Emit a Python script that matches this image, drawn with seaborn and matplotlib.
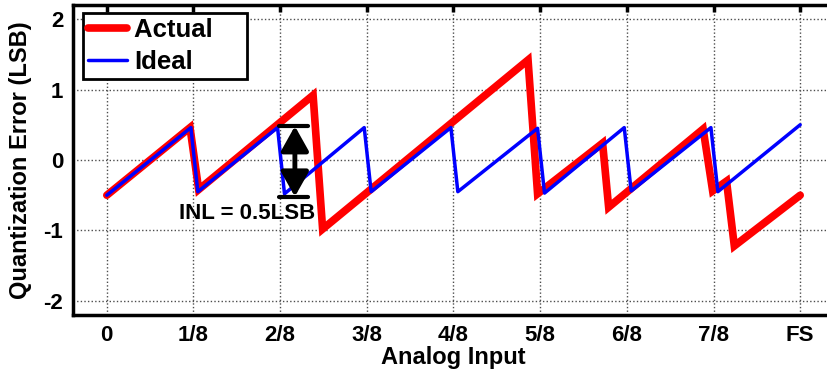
import numpy as np
import pandas as pd
import seaborn as sns
import matplotlib.pyplot as plt

# x in units of FS/8, y in LSB
ideal_x = [0, 0.97, 1.05, 1.97, 2.05, 2.97, 3.05, 3.97, 4.05, 4.97, 5.05, 5.97, 6.05, 6.97, 7.05, 8.0]
ideal_y = [-0.5, 0.46, -0.45, 0.46, -0.48, 0.46, -0.45, 0.46, -0.45, 0.45, -0.47, 0.46, -0.44, 0.46, -0.45, 0.5]

actual_x = [0, 0.96, 1.06, 2.38, 2.49, 4.86, 4.97, 5.72, 5.79, 6.88, 6.99, 7.15, 7.24, 8.0]
actual_y = [-0.5, 0.46, -0.42, 0.92, -0.98, 1.42, -0.48, 0.24, -0.67, 0.44, -0.44, -0.30, -1.22, -0.5]

tick_pos = [0, 1, 2, 3, 4, 5, 6, 7, 8]
tick_labels = ['0', '1/8', '2/8', '3/8', '4/8', '5/8', '6/8', '7/8', 'FS']
y_ticks = [-2, -1, 0, 1, 2]

df = pd.concat([
    pd.DataFrame({'x': actual_x, 'y': actual_y, 'series': 'Actual'}),
    pd.DataFrame({'x': ideal_x, 'y': ideal_y, 'series': 'Ideal'}),
])

sns.set_theme(style="white")
plt.rcParams['font.family'] = ['Liberation Sans', 'DejaVu Sans']
plt.rcParams['font.weight'] = 'bold'
plt.rcParams['axes.unicode_minus'] = False
for k in ['text.color', 'axes.labelcolor', 'xtick.color', 'ytick.color']:
    plt.rcParams[k] = 'black'

fig = plt.figure(figsize=(8.28, 3.79), dpi=100)
ax = fig.add_axes([73 / 828, 1 - 315 / 379, (834 - 73) / 828, 310 / 379])

sns.lineplot(data=df[df.series == 'Actual'], x='x', y='y', sort=False, color='#ff0000',
             lw=5.5, ax=ax, label='Actual    ', solid_joinstyle='miter')
sns.lineplot(data=df[df.series == 'Ideal'], x='x', y='y', sort=False, color='#0000ff',
             lw=2.5, ax=ax, label='Ideal')

ax.set_xlim(-0.39, 8.39)
ax.set_ylim(-2.2, 2.2)
ax.set_xticks(tick_pos)
ax.set_xticklabels(tick_labels)
ax.set_yticks(y_ticks)
ax.grid(True, color='0.3', linestyle=(0, (1, 1.6)), lw=1.0)
ax.tick_params(direction='in', length=5, width=2.5, top=True, right=True,
               labelsize=16, pad=7)
for lab in ax.get_xticklabels() + ax.get_yticklabels():
    lab.set_fontweight('bold')
for s in ax.spines.values():
    s.set_linewidth(2.5)
    s.set_color('black')

ax.set_xlabel('Analog Input', fontsize=17, fontweight='bold', labelpad=0)
ax.set_ylabel('Quantization Error (LSB)', fontsize=17, fontweight='bold', labelpad=8)

# INL annotation
ax.plot([1.99, 2.32], [0.48, 0.48], color='black', lw=3)
ax.plot([1.99, 2.32], [-0.52, -0.52], color='black', lw=3)
ax.annotate('', xy=(2.17, 0.48), xytext=(2.17, -0.52),
            arrowprops=dict(arrowstyle='<|-|>,head_length=0.75,head_width=0.42',
                            mutation_scale=20, color='black', lw=3.5,
                            shrinkA=0, shrinkB=0))
ax.text(1.62, -0.76, 'INL = 0.5LSB', fontsize=16, fontweight='bold',
        ha='center', va='center')

leg = ax.legend(loc='upper left', bbox_to_anchor=(0.013, 0.974), borderaxespad=0,
                fontsize=18.5, frameon=True, fancybox=False, framealpha=1,
                handlelength=1.5, handletextpad=0.3, borderpad=0.2, labelspacing=0.3)
leg.get_frame().set_edgecolor('black')
leg.get_frame().set_linewidth(2)
for t in leg.get_texts():
    t.set_fontweight('bold')

fig.savefig('out.png', dpi=100)
